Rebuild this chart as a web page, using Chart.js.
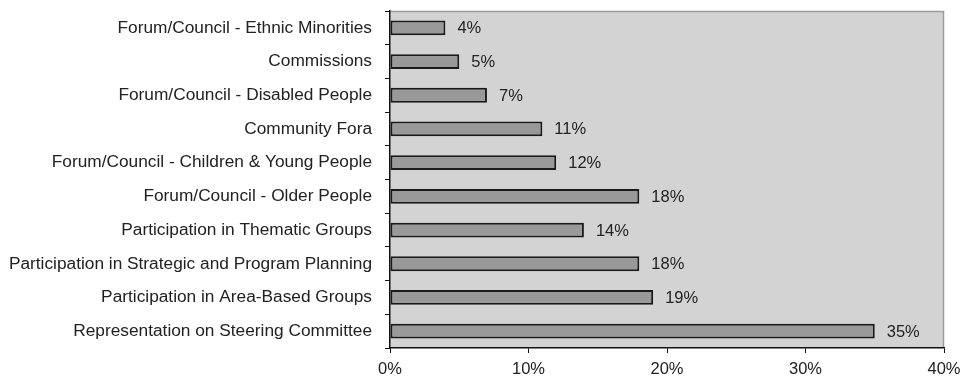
<!DOCTYPE html>
<html><head><meta charset="utf-8">
<script src="https://cdn.jsdelivr.net/npm/chart.js@4/dist/chart.umd.min.js"></script>
<style>html,body{margin:0;padding:0;background:#fff}#wrap{width:964px;height:376px}</style>
</head><body><div id="wrap"><canvas id="c"></canvas></div>
<script>
const categories = [
  "Forum/Council - Ethnic Minorities",
  "Commissions",
  "Forum/Council - Disabled People",
  "Community Fora",
  "Forum/Council - Children & Young People",
  "Forum/Council - Older People",
  "Participation in Thematic Groups",
  "Participation in Strategic and Program Planning",
  "Participation in Area-Based Groups",
  "Representation on Steering Committee"
];
const values = [4, 5, 7, 11, 12, 18, 14, 18, 19, 35];
const xTicks = [0, 10, 20, 30, 40];

const FONT = "'Liberation Sans', Arial, sans-serif";

const plotBg = {
  id: 'plotBg',
  beforeDraw(chart) {
    const {ctx, chartArea: a} = chart;
    ctx.save();
    ctx.fillStyle = '#d3d3d3';
    ctx.fillRect(a.left, a.top, a.right - a.left, a.bottom - a.top);
    ctx.strokeStyle = '#9a9a9a';
    ctx.lineWidth = 1.5;
    ctx.beginPath();
    ctx.moveTo(a.left, a.top + 0.5);
    ctx.lineTo(a.right - 0.5, a.top + 0.5);
    ctx.lineTo(a.right - 0.5, a.bottom);
    ctx.stroke();
    ctx.restore();
  }
};
const valueLabels = {
  id: 'valueLabels',
  afterDatasetsDraw(chart) {
    const {ctx} = chart;
    const meta = chart.getDatasetMeta(0);
    ctx.save();
    ctx.font = '16.5px ' + FONT;
    ctx.fillStyle = '#222';
    ctx.textBaseline = 'middle';
    ctx.textAlign = 'left';
    meta.data.forEach((bar, i) => {
      ctx.fillText(values[i] + '%', bar.x + 12, bar.y + 1);
    });
    ctx.restore();
  }
};

new Chart(document.getElementById('c'), {
  type: 'bar',
  data: {
    labels: categories,
    datasets: [{
      data: values,
      backgroundColor: '#999999',
      borderColor: '#1a1a1a',
      borderWidth: 2,
      borderSkipped: false,
      categoryPercentage: 1,
      barPercentage: 0.44
    }]
  },
  options: {
    indexAxis: 'y',
    responsive: true,
    maintainAspectRatio: false,
    animation: false,
    layout: {padding: {top: 11, right: 20, left: 0, bottom: 0}},
    plugins: {legend: {display: false}, tooltip: {enabled: false}},
    scales: {
      x: {
        min: 0, max: 40,
        afterBuildTicks(s) { s.ticks = xTicks.map(v => ({value: v})); },
        afterFit(s) { s.height = 28; s.paddingLeft = 0; s.paddingRight = 0; },
        border: {color: '#111', width: 1.5},
        grid: {drawOnChartArea: false, drawTicks: true, tickLength: 5, color: '#111'},
        ticks: {
          color: '#222', padding: 7,
          font: {family: FONT, size: 16.5},
          callback: v => v + '%'
        }
      },
      y: {
        afterFit(s) { s.width = 390; s.paddingTop = 0; s.paddingBottom = 0; },
        border: {color: '#111', width: 1.5},
        grid: {drawOnChartArea: false, drawTicks: true, tickLength: 5, color: '#111', offset: true},
        ticks: {color: '#222', padding: 13, font: {family: FONT, size: 17.3}}
      }
    }
  },
  plugins: [plotBg, valueLabels]
});
</script></body></html>
